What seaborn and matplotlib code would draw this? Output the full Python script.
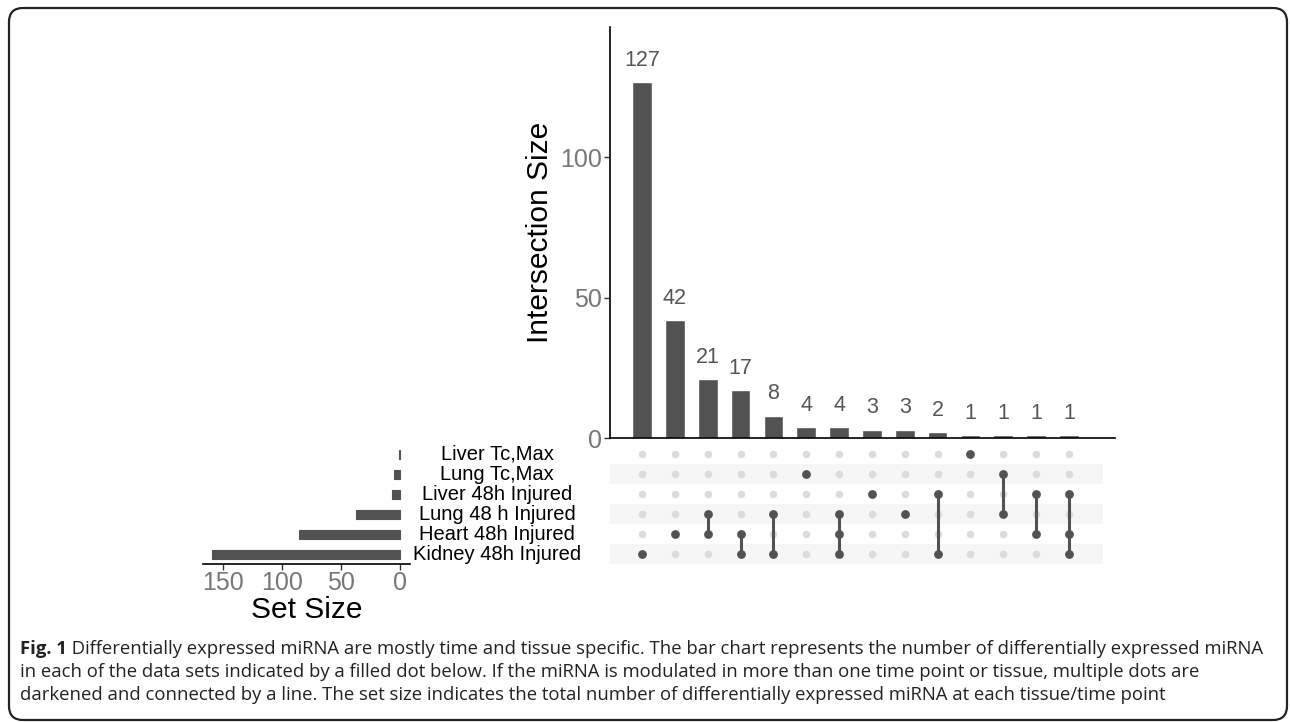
import matplotlib
matplotlib.use("Agg")
import matplotlib.pyplot as plt
from matplotlib.patches import FancyBboxPatch
import pandas as pd
import seaborn as sns

# sets, top row to bottom row of the matrix
set_names = ["Liver Tc,Max", "Lung Tc,Max", "Liver 48h Injured",
             "Lung 48 h Injured", "Heart 48h Injured", "Kidney 48h Injured"]
set_sizes = [1, 5, 7, 37, 86, 159]

# intersections, left to right
inter_sizes = [127, 42, 21, 17, 8, 4, 4, 3, 3, 2, 1, 1, 1, 1]
inter_members = [
    ["Kidney 48h Injured"],
    ["Heart 48h Injured"],
    ["Lung 48 h Injured", "Heart 48h Injured"],
    ["Heart 48h Injured", "Kidney 48h Injured"],
    ["Lung 48 h Injured", "Kidney 48h Injured"],
    ["Lung Tc,Max"],
    ["Lung 48 h Injured", "Heart 48h Injured", "Kidney 48h Injured"],
    ["Liver 48h Injured"],
    ["Lung 48 h Injured"],
    ["Liver 48h Injured", "Kidney 48h Injured"],
    ["Liver Tc,Max"],
    ["Lung Tc,Max", "Lung 48 h Injured"],
    ["Liver 48h Injured", "Heart 48h Injured"],
    ["Liver 48h Injured", "Heart 48h Injured", "Kidney 48h Injured"],
]

caption_bold = "Fig. 1"
caption_lines = [
    " Differentially expressed miRNA are mostly time and tissue specific. The bar chart represents the number of differentially expressed miRNA",
    "in each of the data sets indicated by a filled dot below. If the miRNA is modulated in more than one time point or tissue, multiple dots are",
    "darkened and connected by a line. The set size indicates the total number of differentially expressed miRNA at each tissue/time point",
]

sns.set_style("white")
plt.rcParams["font.family"] = ["Liberation Sans", "DejaVu Sans"]

BAR = "#525252"
TICK = "#777777"
W, H = 1290, 722

fig = plt.figure(figsize=(W / 100, H / 100), dpi=100)


def box(left, top, right, bottom):
    return [left / W, 1 - bottom / H, (right - left) / W, (bottom - top) / H]


n = len(inter_sizes)
xlo, xhi = -0.974, 14.40

# intersection size bars
ax_bar = fig.add_axes(box(610, 27, 1115, 438))
bars = pd.DataFrame({"pos": range(n), "size": inter_sizes})
sns.barplot(data=bars, x="pos", y="size", color=BAR, saturation=1,
            width=0.6, ax=ax_bar)
ax_bar.bar_label(ax_bar.containers[0], padding=8, fontsize=15.5, color="#555555")
ax_bar.set_xlim(xlo, xhi)
ax_bar.set_ylim(0, 146.5)
ax_bar.set_yticks([0, 50, 100])
ax_bar.tick_params(axis="y", labelsize=18, labelcolor=TICK, length=4,
                   width=1, color="#333333", left=True, pad=2)
ax_bar.set_xticks([])
ax_bar.set_xlabel("")
ax_bar.set_ylabel("Intersection Size", fontsize=21.5, color="black", labelpad=4)
for s in ["top", "right"]:
    ax_bar.spines[s].set_visible(False)
for s in ["left", "bottom"]:
    ax_bar.spines[s].set_color("black")
    ax_bar.spines[s].set_linewidth(1.2)

# matrix
ax_mat = fig.add_axes(box(610, 444, 1115, 564))
for i in range(len(set_names)):
    if i % 2 == 1:
        ax_mat.axhspan(i - 0.5, i + 0.5, xmin=0, xmax=0.976,
                       color="#f6f6f6", lw=0, zorder=0)
rows = []
for j, members in enumerate(inter_members):
    for i, name in enumerate(set_names):
        rows.append({"col": j, "row": i, "on": name in members})
grid = pd.DataFrame(rows)
sns.scatterplot(data=grid[~grid["on"]], x="col", y="row", color="#dcdcdc",
                s=30, linewidth=0, ax=ax_mat, zorder=2)
on = grid[grid["on"]]
span = on.groupby("col")["row"].agg(["min", "max"]).reset_index()
ax_mat.vlines(span["col"], span["min"], span["max"], color=BAR, lw=2.2, zorder=3)
sns.scatterplot(data=on, x="col", y="row", color=BAR, s=40, linewidth=0,
                ax=ax_mat, zorder=4)
ax_mat.set_xlim(xlo, xhi)
ax_mat.set_ylim(len(set_names) - 0.5, -0.5)
ax_mat.set_xticks([])
ax_mat.set_yticks([])
ax_mat.set_xlabel("")
ax_mat.set_ylabel("")
for s in ax_mat.spines.values():
    s.set_visible(False)

# set size bars
ax_set = fig.add_axes(box(203, 444, 410, 564))
sets = pd.DataFrame({"name": set_names, "size": set_sizes})
sns.barplot(data=sets, y="name", x="size", color=BAR, saturation=1,
            width=0.45, orient="h", edgecolor=BAR, linewidth=0.8, ax=ax_set)
ax_set.set_xlim(167, -8.5)
ax_set.set_ylim(len(set_names) - 0.5, -0.5)
ax_set.set_xticks([0, 50, 100, 150])
ax_set.set_yticks([])
ax_set.tick_params(axis="x", labelsize=18, labelcolor=TICK, length=4,
                   width=1, color="#333333", bottom=True, pad=1)
ax_set.set_ylabel("")
ax_set.set_xlabel("Set Size", fontsize=21.5, color="black", labelpad=0)
ax_set.xaxis.set_label_coords(0.5, -0.27)
for s in ["top", "right", "left"]:
    ax_set.spines[s].set_visible(False)
ax_set.spines["bottom"].set_color("black")
ax_set.spines["bottom"].set_linewidth(1.2)

# set names, centred between the two panels
for i, name in enumerate(set_names):
    ax_set.annotate(name, xy=(0, i), xycoords=("figure fraction", "data"),
                    xytext=(497 / W, 0), textcoords=("figure fraction", "offset points"),
                    ha="center", va="center", fontsize=14.5, color="black",
                    annotation_clip=False)

# frame and caption
ax_fr = fig.add_axes([0, 0, 1, 1], zorder=-1)
ax_fr.set_xlim(0, W)
ax_fr.set_ylim(H, 0)
ax_fr.axis("off")
ax_fr.add_patch(FancyBboxPatch((9, 8), 1278, 712,
                               boxstyle="round,pad=0,rounding_size=14",
                               fill=False, ec="#222222", lw=1.6, clip_on=False))

cap_font = ["Open Sans", "DejaVu Sans"]
cap_size = 13.3
t0 = ax_fr.text(20, 649, caption_bold, fontsize=cap_size, fontweight="bold",
                family=cap_font, color="#222222", va="center")
ax_fr.annotate(caption_lines[0], xy=(1, 0.5), xycoords=t0, va="center",
               fontsize=cap_size, family=cap_font, color="#222222")
for k, line in enumerate(caption_lines[1:]):
    ax_fr.text(20, 672 + 23 * k, line, fontsize=cap_size, family=cap_font,
               color="#222222", va="center")

fig.savefig("out.png", dpi=100)
